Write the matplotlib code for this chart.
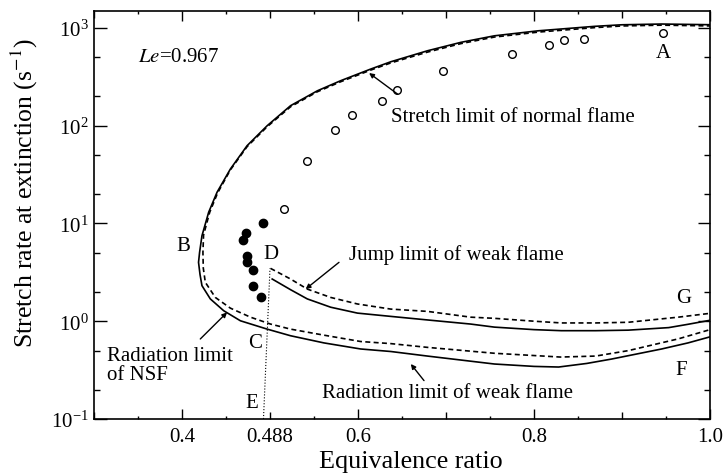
import matplotlib
matplotlib.use('Agg')
import matplotlib.pyplot as plt
from matplotlib.ticker import FixedLocator, FixedFormatter, LogLocator, NullFormatter

plt.rcParams['font.family'] = ['Liberation Serif', 'DejaVu Serif']
plt.rcParams['mathtext.fontset'] = 'stix'

# stretch limit of normal flame -> nose B -> radiation limit of NSF (solid, along the C shape)
outer_solid_x = [1.002, 0.945, 0.90, 0.869, 0.805, 0.755, 0.717, 0.679, 0.6373, 0.6145, 0.5803,
                 0.5538, 0.5234, 0.4968, 0.4740, 0.4550, 0.4398, 0.4303, 0.4227, 0.4200, 0.4188,
                 0.4205, 0.4227, 0.4322, 0.4474, 0.4664, 0.4968, 0.5234, 0.5613, 0.603, 0.6373,
                 0.679, 0.755, 0.80, 0.828, 0.86, 0.888, 0.945, 0.975, 1.002]
outer_solid_y = [1076, 1094, 1075, 1036, 933, 829, 711, 583, 450, 379, 288,
                 227, 160, 99.8, 62.4, 36.0, 20.8, 13.0, 7.48, 5.06, 4.0,
                 3.0, 2.31, 1.69, 1.28, 1.01, 0.83, 0.71, 0.60, 0.52, 0.49,
                 0.44, 0.365, 0.345, 0.34, 0.37, 0.41, 0.52, 0.60, 0.70]

outer_dash_x = [1.002, 0.945, 0.90, 0.869, 0.805, 0.755, 0.717, 0.679, 0.6373, 0.6145, 0.5803,
                0.5538, 0.5234, 0.4968, 0.4740, 0.4550, 0.4405, 0.4315, 0.4245, 0.4238, 0.4242,
                0.4265, 0.4379, 0.455, 0.4778, 0.5006, 0.5234, 0.5613, 0.603, 0.6373, 0.679,
                0.755, 0.83, 0.87, 0.907, 0.964, 1.002]
outer_dash_y = [1045, 1065, 1045, 1005, 905, 805, 690, 565, 438, 370, 281,
                222, 156, 97.5, 61, 35.3, 20.5, 13.0, 7.6, 5.06, 3.5,
                2.50, 1.75, 1.36, 1.10, 0.935, 0.83, 0.72, 0.62, 0.59, 0.54,
                0.47, 0.43, 0.44, 0.50, 0.66, 0.83]

# jump limit of weak flame (D -> G)
jump_solid_x = [0.5025, 0.5234, 0.5424, 0.569, 0.5994, 0.6373, 0.679, 0.728, 0.755, 0.80,
                0.831, 0.87, 0.907, 0.953, 0.975, 1.002]
jump_solid_y = [2.70, 2.10, 1.69, 1.39, 1.21, 1.12, 1.03, 0.935, 0.87, 0.82,
                0.80, 0.80, 0.81, 0.86, 0.93, 1.03]
jump_dash_x = [0.5006, 0.5234, 0.5424, 0.569, 0.5994, 0.6373, 0.679, 0.728, 0.755, 0.80,
               0.831, 0.87, 0.907, 0.964, 1.002]
jump_dash_y = [3.47, 2.70, 2.13, 1.75, 1.50, 1.33, 1.26, 1.10, 1.07, 1.0,
               0.96, 0.96, 0.975, 1.10, 1.21]

# dotted line E -> D
ed_x = [0.4926, 0.5000]
ed_y = [0.1, 3.47]

# measurements
open_x = [0.5154, 0.5416, 0.5735, 0.5929, 0.627, 0.644, 0.697, 0.775, 0.817, 0.834, 0.857, 0.947]
open_y = [14.0, 43.4, 90, 128, 179, 231, 361, 540, 667, 750, 767, 885]
filled_x = [0.4732, 0.4915, 0.4698, 0.4744, 0.4744, 0.4812, 0.4812, 0.4903]
filled_y = [7.98, 10.1, 6.76, 4.64, 4.03, 3.34, 2.29, 1.77]

xticks = [0.3, 0.4, 0.5, 0.6, 0.7, 0.8, 0.9, 1.0]
xticklabels = ['', '0.4', '0.488', '0.6', '', '0.8', '', '1.0']

fig = plt.figure(figsize=(7.24, 4.77), dpi=100)
ax = fig.add_axes([0.1298, 0.1195, 0.8509, 0.8553])

ax.plot(outer_solid_x, outer_solid_y, 'k-', lw=1.2)
ax.plot(outer_dash_x, outer_dash_y, 'k--', lw=1.2, dashes=(3, 2))
ax.plot(jump_solid_x, jump_solid_y, 'k-', lw=1.2)
ax.plot(jump_dash_x, jump_dash_y, 'k--', lw=1.2, dashes=(3, 2))
ax.plot(ed_x, ed_y, 'k:', lw=0.8)
ax.plot(open_x, open_y, 'o', mfc='white', mec='black', ms=5.5, mew=1.0, ls='none')
ax.plot(filled_x, filled_y, 'o', color='black', ms=6, ls='none')

ax.set_yscale('log')
ax.set_xlim(0.3, 1.0)
ax.set_ylim(0.1, 1486)

ax.xaxis.set_major_locator(FixedLocator(xticks))
ax.xaxis.set_major_formatter(FixedFormatter(xticklabels))
ax.xaxis.set_minor_locator(FixedLocator([0.35, 0.45, 0.55, 0.65, 0.75, 0.85, 0.95]))
ax.yaxis.set_major_locator(LogLocator(base=10, numticks=10))
ax.yaxis.set_minor_locator(LogLocator(base=10, subs=(2.0, 5.0), numticks=10))
ax.yaxis.set_minor_formatter(NullFormatter())

ax.tick_params(which='both', direction='in', top=True, right=True, width=1.0)
ax.tick_params(axis='x', which='major', length=7.2, labelsize=15, pad=6)
ax.tick_params(axis='x', which='minor', length=2.4)
ax.tick_params(axis='y', which='major', length=9, labelsize=15, pad=4)
ax.tick_params(axis='y', which='minor', length=4.3)
for t, lab in zip(ax.xaxis.get_major_ticks(), xticklabels):
    if lab in ('', '0.488'):
        t.tick1line.set_markersize(4.8)
        t.tick2line.set_markersize(4.8)
for s in ax.spines.values():
    s.set_linewidth(1.2)

ax.set_xlabel('Equivalence ratio', fontsize=18.8)
ax.set_ylabel('Stretch rate at extinction (s$^{-1}$)', fontsize=18.5)
ax.xaxis.set_label_coords(0.515, -0.075)
ax.yaxis.set_label_coords(-0.088, 0.555)

fs = 15
ax.text(0.350, 515, r'$\mathit{Le}$=0.967', fontsize=fs, va='center', ha='left')
ax.text(0.947, 566, 'A', fontsize=fs, ha='center', va='center')
ax.text(0.4018, 6.0, 'B', fontsize=fs, ha='center', va='center')
ax.text(0.5006, 4.87, 'D', fontsize=fs, ha='center', va='center')
ax.text(0.4835, 0.608, 'C', fontsize=fs, ha='center', va='center')
ax.text(0.4797, 0.148, 'E', fontsize=fs, ha='center', va='center')
ax.text(0.970, 1.75, 'G', fontsize=fs, ha='center', va='center')
ax.text(0.967, 0.324, 'F', fontsize=fs, ha='center', va='center')

arrow = dict(arrowstyle='-|>', color='black', lw=1.0, mutation_scale=7, shrinkA=0, shrinkB=0)
ax.annotate('', xy=(0.6126, 345), xytext=(0.645, 210), arrowprops=arrow)
ax.text(0.637, 125, 'Stretch limit of normal flame', fontsize=fs, ha='left', va='center')
ax.annotate('', xy=(0.5405, 2.13), xytext=(0.5784, 4.0), arrowprops=arrow)
ax.text(0.590, 4.87, 'Jump limit of weak flame', fontsize=fs, ha='left', va='center')
ax.annotate('', xy=(0.4512, 1.23), xytext=(0.4208, 0.658), arrowprops=arrow)
ax.text(0.3145, 0.357, 'Radiation limit\nof NSF', fontsize=fs, ha='left', va='center',
        linespacing=1.0)
ax.annotate('', xy=(0.660, 0.365), xytext=(0.675, 0.247), arrowprops=arrow)
ax.text(0.5595, 0.187, 'Radiation limit of weak flame', fontsize=fs, ha='left', va='center')

fig.savefig('out.png', dpi=100)
